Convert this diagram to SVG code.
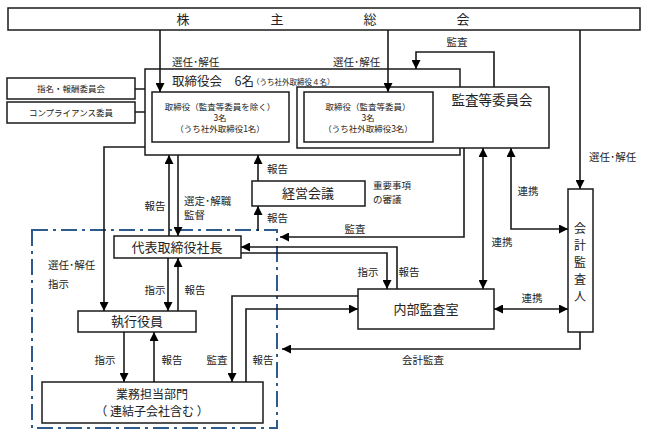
<svg xmlns="http://www.w3.org/2000/svg" width="648" height="438" viewBox="0 0 648 438">
<defs>
<marker id="ah" viewBox="0 0 10 10" refX="10" refY="5" markerWidth="9" markerHeight="9" markerUnits="userSpaceOnUse" orient="auto-start-reverse"><path d="M0,0 L10,5 L0,10 z" fill="#000"/></marker>
<style>
.box{fill:#fff;stroke:#1a1a1a;stroke-width:1.5}
.ln{fill:none;stroke:#1a1a1a;stroke-width:1.6}
.ar{fill:none;stroke:#1a1a1a;stroke-width:1.6;marker-end:url(#ah)}
.bi{fill:none;stroke:#1a1a1a;stroke-width:1.6;marker-end:url(#ah);marker-start:url(#ah)}
text{font-family:"Noto Sans CJK JP","Noto Sans",sans-serif;fill:#222}
.lb{font-size:10.5px}
.big{font-size:13px;text-anchor:middle}
.sm{font-size:8.5px;text-anchor:middle}
.vt{font-size:12px;text-anchor:middle}
.frame{fill:none;stroke:#2E5A8C;stroke-width:2;stroke-dasharray:16 5 3 5}
</style>
</defs>
<rect x="0" y="0" width="648" height="438" fill="#fff"/>

<g id="frame"><rect class="frame" x="32" y="230" width="245" height="198"/></g>

<g id="kabunushi">
<rect class="box" x="8" y="8" width="632" height="22"/>
<text x="183" y="24" class="big">株</text><text x="277" y="24" class="big">主</text><text x="370" y="24" class="big">総</text><text x="463" y="24" class="big">会</text>
</g>

<g id="shimei"><rect class="box" x="7" y="78" width="128" height="21"/><text x="71" y="92" class="sm">指名・報酬委員会</text></g>
<g id="compliance"><rect class="box" x="7" y="102" width="128" height="21"/><text x="71" y="116" class="sm">コンプライアンス委員</text></g>

<g id="torishimariyakukai">
<rect class="box" x="145" y="69" width="315" height="86"/>
<text x="172" y="86" style="font-size:12.5px">取締役会　6名</text>
<text x="252" y="85" style="font-size:7.5px">（うち社外取締役４名）</text>
<rect class="box" x="152" y="92" width="137" height="50"/>
<text x="220" y="110" class="sm">取締役（監査等委員を除く）</text>
<text x="220" y="121" class="sm">3名</text>
<text x="220" y="132" class="sm">（うち社外取締役1名）</text>
</g>

<g id="kansatoiinkai">
<rect class="box" x="297" y="87" width="252" height="61"/>
<text x="492" y="105" class="big" style="font-size:13.5px">監査等委員会</text>
<rect class="box" x="304" y="92" width="129" height="50"/>
<text x="368" y="110" class="sm">取締役（監査等委員）</text>
<text x="368" y="121" class="sm">3名</text>
<text x="368" y="132" class="sm">（うち社外取締役3名）</text>
</g>

<g id="keiei">
<rect class="box" x="252" y="181" width="113" height="25"/>
<text x="308" y="198" class="big">経営会議</text>
<text x="373" y="189" class="lb" style="font-size:9.5px">重要事項</text>
<text x="373" y="203" class="lb" style="font-size:9.5px">の審議</text>
</g>

<g id="kaikei">
<rect class="box" x="568" y="189" width="25" height="143"/>
<text x="580" y="233" class="vt">会</text><text x="580" y="250" class="vt">計</text><text x="580" y="267" class="vt">監</text><text x="580" y="284" class="vt">査</text><text x="580" y="301" class="vt">人</text>
</g>

<g id="daihyo"><rect class="box" x="114" y="236" width="127" height="22"/><text x="177" y="252" class="big">代表取締役社長</text></g>
<g id="naibu"><rect class="box" x="358" y="289" width="136" height="40"/><text x="426" y="314" class="big">内部監査室</text></g>
<g id="shikko"><rect class="box" x="78" y="311" width="118" height="21"/><text x="137" y="326" class="big">執行役員</text></g>
<g id="gyomu"><rect class="box" x="42" y="382" width="221" height="41"/>
<text x="152" y="399" class="big" style="font-size:12px">業務担当部門</text>
<text x="152" y="416" class="big" style="font-size:12px">（ 連結子会社含む ）</text></g>

<g id="connectors">
<path class="ar" d="M160,30 V92"/>
<path class="ar" d="M388,30 V92"/>
<path class="ar" d="M580,30 V189"/>
<path class="ar" d="M494,87 V52 H416 V69"/>
<path class="ln" d="M135,89 H145 M135,112 H145"/>
<path class="ar" d="M145,147 H104 V311"/>
<path class="ar" d="M169,236 V155"/>
<path class="ar" d="M178,155 V236"/>
<path class="ar" d="M258,181 V155"/>
<path class="ar" d="M258,231 V206"/>
<path class="ar" d="M464,148 V237 H280"/>
<path class="bi" d="M483,148 V289"/>
<path class="bi" d="M511,148 V229 H568"/>
<path class="ar" d="M397,289 V247 H241"/>
<path class="ar" d="M241,253 H387 V289"/>
<path class="bi" d="M494,309 H568"/>
<path class="ar" d="M580,332 V349 H282"/>
<path class="ar" d="M358,296 H232 V382"/>
<path class="ar" d="M246,382 V309 H358"/>
<path class="ar" d="M168,258 V311"/>
<path class="ar" d="M178,311 V258"/>
<path class="ar" d="M124,332 V382"/>
<path class="ar" d="M154,382 V332"/>
</g>

<g id="labels" class="lb">
<text x="172" y="66">選任･解任</text>
<text x="333" y="66">選任･解任</text>
<text x="457" y="46" text-anchor="middle">監査</text>
<text x="155" y="210" text-anchor="middle">報告</text>
<text x="184" y="205">選定･解職</text>
<text x="184" y="219">監督</text>
<text x="267" y="173">報告</text>
<text x="267" y="222">報告</text>
<text x="355" y="233" text-anchor="middle">監査</text>
<text x="528" y="195" text-anchor="middle">連携</text>
<text x="502" y="246" text-anchor="middle">連携</text>
<text x="589" y="161">選任･解任</text>
<text x="48" y="269">選任･解任</text>
<text x="48" y="288">指示</text>
<text x="155" y="294" text-anchor="middle">指示</text>
<text x="195" y="294" text-anchor="middle">報告</text>
<text x="368" y="276" text-anchor="middle">指示</text>
<text x="409" y="276" text-anchor="middle">報告</text>
<text x="532" y="302" text-anchor="middle">連携</text>
<text x="105" y="364" text-anchor="middle">指示</text>
<text x="172" y="364" text-anchor="middle">報告</text>
<text x="217" y="364" text-anchor="middle">監査</text>
<text x="263" y="364" text-anchor="middle">報告</text>
<text x="423" y="364" text-anchor="middle">会計監査</text>
</g>
</svg>
